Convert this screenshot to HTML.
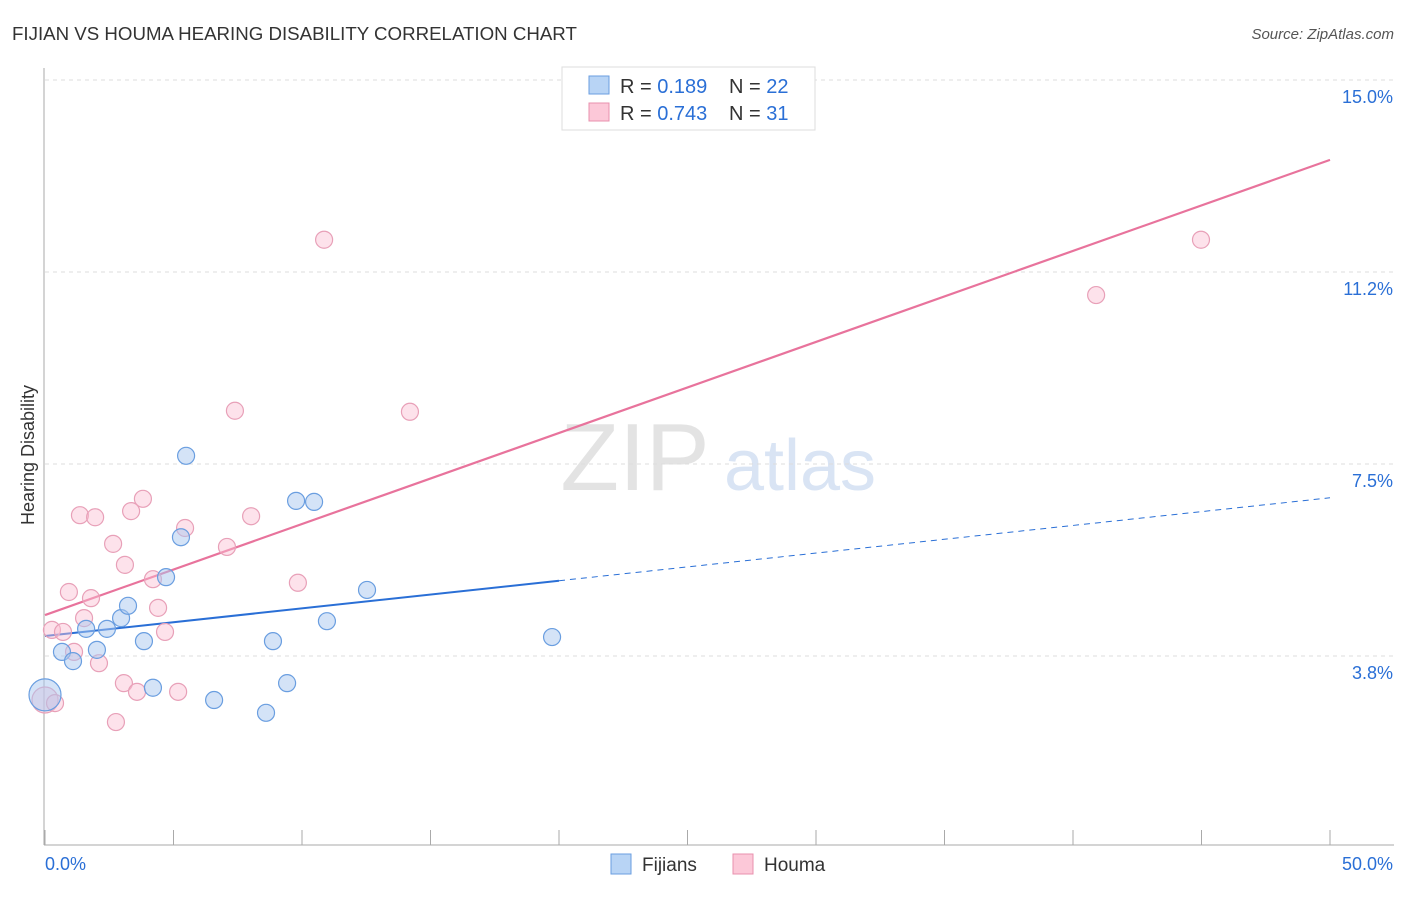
<!DOCTYPE html>
<html><head><meta charset="utf-8"><style>
body{margin:0;background:#fff;font-family:"Liberation Sans",sans-serif;}
svg text{font-family:"Liberation Sans",sans-serif;}
</style></head><body>
<svg id="chart" width="1406" height="892" xmlns="http://www.w3.org/2000/svg">
<text x="12" y="40" font-size="18.7" fill="#333">FIJIAN VS HOUMA HEARING DISABILITY CORRELATION CHART</text>
<text x="1394" y="39" font-size="15" fill="#555" text-anchor="end" font-style="italic">Source: ZipAtlas.com</text>
<g><text x="635" y="490" font-size="96" fill="#ddd" text-anchor="middle" font-family="Liberation Serif" opacity="0.8">ZIP</text><text x="800" y="490" font-size="72" fill="#c9d9f0" text-anchor="middle" opacity="0.7">atlas</text></g>
<g id="grid"></g><g id="axes"></g><g id="lines"></g><g id="pts"></g>
<text x="34" y="455" font-size="18" fill="#333" text-anchor="middle" transform="rotate(-90 34 455)">Hearing Disability</text>
<g>
<rect x="562" y="67" width="253" height="63" fill="#fff" stroke="#ddd"/>
<rect x="589" y="76" width="20" height="18" fill="#b8d4f5" stroke="#6a9ee0"/>
<rect x="589" y="103" width="20" height="18" fill="#fcc8d8" stroke="#e890ae"/>
<text x="620" y="93" font-size="20" fill="#333">R = <tspan fill="#2a6fd6">0.189</tspan></text>
<text x="729" y="93" font-size="20" fill="#333">N = <tspan fill="#2a6fd6">22</tspan></text>
<text x="620" y="120" font-size="20" fill="#333">R = <tspan fill="#2a6fd6">0.743</tspan></text>
<text x="729" y="120" font-size="20" fill="#333">N = <tspan fill="#2a6fd6"> 31</tspan></text>
</g>
<g>
<rect x="611" y="854" width="20" height="20" fill="#b8d4f5" stroke="#6a9ee0"/>
<text x="642" y="871" font-size="19" fill="#333">Fijians</text>
<rect x="733" y="854" width="20" height="20" fill="#fcc8d8" stroke="#e890ae"/>
<text x="764" y="871" font-size="19" fill="#333">Houma</text>
</g>
</svg>
<script>
const yTicks=[15,11.25,7.5,3.75];
const yTickLabels=["15.0%","11.2%","7.5%","3.8%"];
const fijiX=[0,0.66,1.09,1.6,2.02,2.41,2.96,3.23,3.85,4.2,4.71,5.29,5.49,6.58,8.6,8.87,9.42,9.77,10.47,10.97,12.53,19.73];
const fijiY=[2.99,3.83,3.65,4.28,3.87,4.28,4.49,4.73,4.04,3.13,5.29,6.07,7.66,2.89,2.64,4.04,3.22,6.78,6.76,4.43,5.04,4.12];
const houmaX=[0,0.27,0.7,0.93,1.13,1.36,1.52,1.79,1.95,2.1,2.65,2.76,3.07,3.11,3.35,3.58,3.81,4.2,4.4,4.67,5.18,5.45,7.08,7.39,8.02,9.84,10.86,14.2,40.9,44.98,0.39];
const houmaY=[2.89,4.26,4.22,5.0,3.83,6.5,4.49,4.88,6.46,3.61,5.94,2.46,3.22,5.53,6.58,3.05,6.82,5.25,4.69,4.22,3.05,6.25,5.88,8.54,6.48,5.18,11.88,8.52,10.8,11.88,2.83];
const fijiTrend=[4.14,6.84];
const houmaTrend=[4.55,13.44];
const NS="http://www.w3.org/2000/svg";
const X=v=>45+v*25.7, Y=v=>80+(15-v)*51.2;
function mk(tag,at,parent){const e=document.createElementNS(NS,tag);for(const k in at)e.setAttribute(k,at[k]);document.getElementById(parent).appendChild(e);return e;}
yTicks.forEach((t,i)=>{
 const g=mk('line',{x1:45,x2:1394,y1:Y(t),y2:Y(t),stroke:'#ddd','stroke-dasharray':'4,4'},'grid');
 
 
 const l=mk('text',{x:1393,y:Y(t)+23,'font-size':18,fill:'#2a6fd6','text-anchor':'end'},'grid');
 l.textContent=yTickLabels[i];
 
 
});
let a=mk('line',{x1:44,x2:44,y1:68,y2:845,stroke:'#aaa'},'axes');


a=mk('line',{x1:44,x2:1394,y1:845,y2:845,stroke:'#aaa'},'axes');


for(let i=0;i<=10;i++){const t=mk('line',{x1:X(i*5),x2:X(i*5),y1:830,y2:845,stroke:'#aaa'},'axes');
 
 }
let xl=mk('text',{x:45,y:870,'font-size':18,fill:'#2a6fd6'},'axes');xl.textContent='0.0%';


xl=mk('text',{x:1393,y:870,'font-size':18,fill:'#2a6fd6','text-anchor':'end'},'axes');xl.textContent='50.0%';


const fAt=x=>fijiTrend[0]+(fijiTrend[1]-fijiTrend[0])*x/50;
let ln=mk('line',{x1:X(0),y1:Y(fAt(0)),x2:X(20),y2:Y(fAt(20)),stroke:'#2a6fd6','stroke-width':2},'lines');


ln=mk('line',{x1:X(20),y1:Y(fAt(20)),x2:X(50),y2:Y(fAt(50)),stroke:'#2a6fd6','stroke-width':1,'stroke-dasharray':'6,5'},'lines');


ln=mk('line',{x1:X(0),y1:Y(houmaTrend[0]),x2:X(50),y2:Y(houmaTrend[1]),stroke:'#e8739c','stroke-width':2.2},'lines');


houmaX.forEach((x,i)=>{const c=mk('circle',{cx:X(x),cy:Y(houmaY[i]),r:i==0?13:8.5,fill:'rgba(250,190,210,0.45)',stroke:'#e8a0b8','stroke-width':1.2},'pts');
 
 });
fijiX.forEach((x,i)=>{const c=mk('circle',{cx:X(x),cy:Y(fijiY[i]),r:i==0?16:8.5,fill:'rgba(170,200,240,0.5)',stroke:'#6a9ee0','stroke-width':1.2},'pts');
 
 });
</script>
</body></html>
